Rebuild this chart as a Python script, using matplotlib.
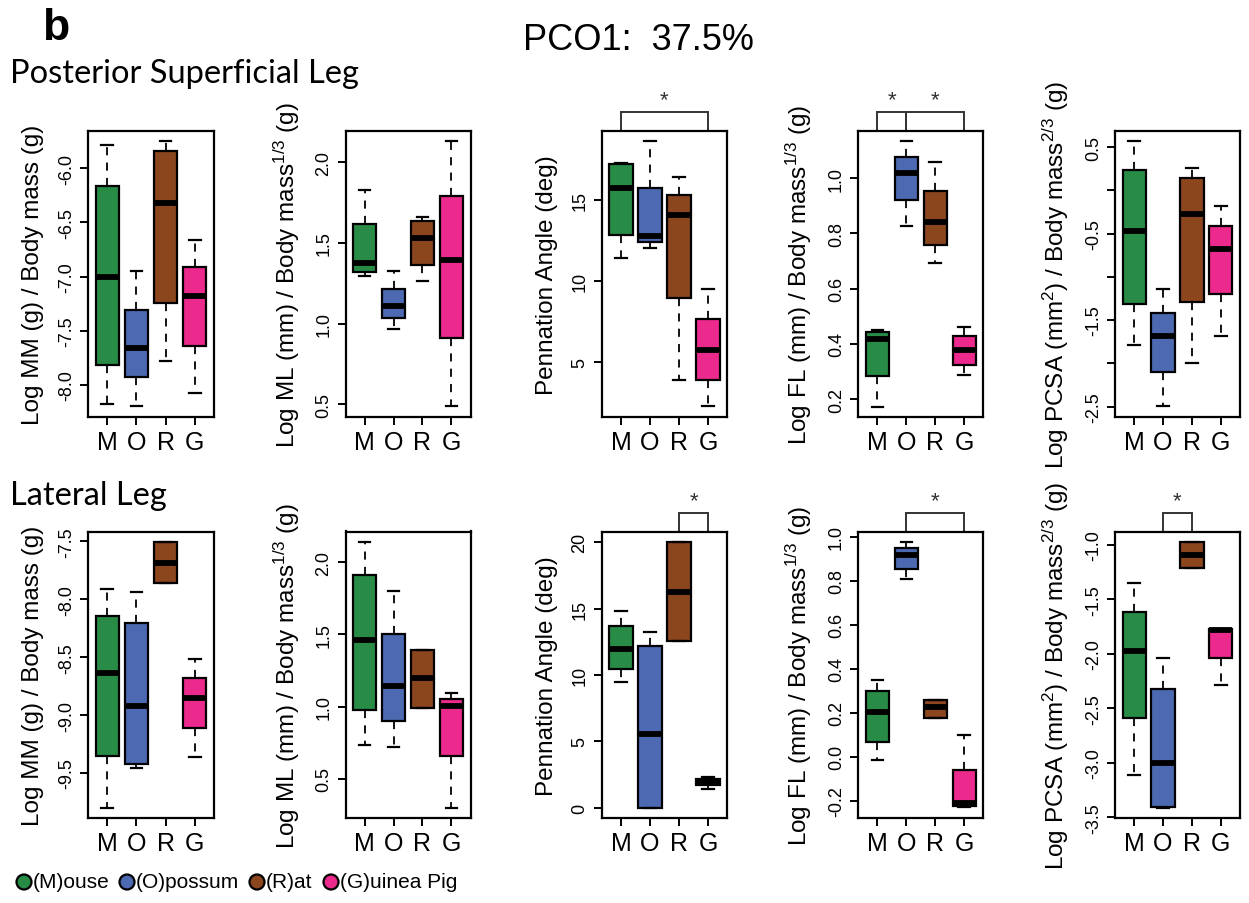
import matplotlib
matplotlib.use('Agg')
import matplotlib.pyplot as plt
from matplotlib.transforms import blended_transform_factory

plt.rcParams['font.family'] = ['Liberation Sans', 'DejaVu Sans']
plt.rcParams['mathtext.fontset'] = 'custom'
plt.rcParams['mathtext.rm'] = 'Liberation Sans'
plt.rcParams['mathtext.it'] = 'Liberation Sans:italic'
plt.rcParams['axes.unicode_minus'] = False

groups = ['M', 'O', 'R', 'G']
species = ['(M)ouse', '(O)possum', '(R)at', '(G)uinea Pig']
colors = ['#298C46', '#4D69B2', '#8B461E', '#EC298D']

# five-number summaries per group: [lower whisker, Q1, median, Q3, upper whisker]
post_mm = [[-8.175, -7.82, -7.006, -6.166, -5.79],
           [-8.19, -7.93, -7.66, -7.31, -6.95],
           [-7.78, -7.24, -6.32, -5.84, -5.75],
           [-8.07, -7.64, -7.18, -6.91, -6.66]]
post_ml = [[1.295, 1.318, 1.376, 1.616, 1.824],
           [0.965, 1.035, 1.107, 1.215, 1.324],
           [1.264, 1.36, 1.529, 1.632, 1.661],
           [0.49, 0.911, 1.395, 1.791, 2.132]]
post_pa = [[11.40, 12.84, 15.70, 17.18, 17.28],
           [12.02, 12.37, 12.78, 15.70, 18.62],
           [3.87, 8.93, 14.09, 15.29, 16.40],
           [2.26, 3.89, 5.72, 7.67, 9.49]]
post_fl = [[0.173, 0.284, 0.418, 0.444, 0.451],
           [0.826, 0.922, 1.018, 1.076, 1.133],
           [0.694, 0.757, 0.840, 0.954, 1.057],
           [0.288, 0.323, 0.379, 0.429, 0.463]]
post_pcsa = [[-1.787, -1.316, -0.476, 0.230, 0.566],
             [-2.497, -2.099, -1.687, -1.417, -1.139],
             [-1.991, -1.286, -0.279, 0.137, 0.253],
             [-1.679, -1.197, -0.684, -0.410, -0.179]]
lat_mm = [[-9.803, -9.350, -8.633, -8.140, -7.909],
          [-9.454, -9.419, -8.924, -8.206, -7.941],
          [-7.860, -7.860, -7.684, -7.506, -7.506],
          [-9.359, -9.108, -8.854, -8.684, -8.517]]
lat_ml = [[0.737, 0.979, 1.461, 1.912, 2.14],
          [0.724, 0.903, 1.145, 1.50, 1.80],
          [0.993, 0.993, 1.198, 1.392, 1.392],
          [0.300, 0.657, 1.007, 1.051, 1.097]]
lat_pa = [[9.47, 10.43, 11.96, 13.67, 14.82],
          [0.0, 0.0, 5.55, 12.21, 13.22],
          [12.59, 12.59, 16.28, 20.0, 20.0],
          [1.41, 1.73, 1.91, 2.16, 2.29]]
lat_fl = [[-0.013, 0.069, 0.202, 0.301, 0.349],
          [0.809, 0.853, 0.915, 0.950, 0.976],
          [0.176, 0.176, 0.225, 0.260, 0.260],
          [-0.230, -0.223, -0.211, -0.059, 0.099]]
lat_pcsa = [[-3.108, -2.585, -1.970, -1.615, -1.349],
            [-3.414, -3.408, -3.001, -2.322, -2.037],
            [-1.214, -1.214, -1.092, -0.976, -0.976],
            [-2.285, -2.037, -1.786, -1.771, -1.771]]

ylab_mm = 'Log MM (g) / Body mass (g)'
ylab_ml = 'Log ML (mm) / Body mass$^{1/3}$ (g)'
ylab_pa = 'Pennation Angle (deg)'
ylab_fl = 'Log FL (mm) / Body mass$^{1/3}$ (g)'
ylab_pcsa = 'Log PCSA (mm$^{2}$) / Body mass$^{2/3}$ (g)'

W, H = 1249, 904
fig = plt.figure(figsize=(W / 100, H / 100), dpi=100)

col_x = [(88, 214), (345.5, 470.5), (601.7, 727.3), (858.3, 983.3), (1115, 1240)]
row_y = [(131.7, 418), (532.5, 819.3)]

panels = [
    # row, col, data, ylim, ticks, labeled ticks, ylabel, brackets
    (0, 0, post_mm, (-8.295, -5.656), [-8, -7.5, -7, -6.5, -6], None, ylab_mm, []),
    (0, 1, post_ml, (0.421, 2.194), [0.5, 1.0, 1.5, 2.0], None, ylab_ml, []),
    (0, 2, post_pa, (1.60, 19.26), [5, 10, 15], None, ylab_pa, [(1, 4)]),
    (0, 3, post_fl, (0.136, 1.171), [0.2, 0.4, 0.6, 0.8, 1.0], None, ylab_fl, [(1, 2), (2, 4)]),
    (0, 4, post_pcsa, (-2.62, 0.689), [-2.5, -2, -1.5, -1, -0.5, 0, 0.5],
     [-2.5, -1.5, -0.5, 0.5], ylab_pcsa, []),
    (1, 0, lat_mm, (-9.892, -7.414), [-9.5, -9, -8.5, -8, -7.5], None, ylab_mm, []),
    (1, 1, lat_ml, (0.228, 2.212), [0.5, 1.0, 1.5, 2.0], None, ylab_ml, []),
    (1, 2, lat_pa, (-0.80, 20.80), [0, 5, 10, 15, 20], None, ylab_pa, [(3, 4)]),
    (1, 3, lat_fl, (-0.280, 1.024), [-0.2, 0.0, 0.2, 0.4, 0.6, 0.8, 1.0], None, ylab_fl, [(2, 4)]),
    (1, 4, lat_pcsa, (-3.509, -0.878), [-3.5, -3, -2.5, -2, -1.5, -1], None, ylab_pcsa, [(2, 3)]),
]

def fmt(v, ticks):
    if all(float(t).is_integer() for t in ticks):
        return '%d' % v
    return '%.1f' % v

for row, col, data, ylim, ticks, labeled, ylabel, brackets in panels:
    x0, x1 = col_x[col]
    y0, y1 = row_y[row]
    ax = fig.add_axes([x0 / W, 1 - y1 / H, (x1 - x0) / W, (y1 - y0) / H])
    stats = [dict(whislo=d[0], q1=d[1], med=d[2], q3=d[3], whishi=d[4], fliers=[], label=g)
             for d, g in zip(data, groups)]
    bp = ax.bxp(stats, positions=[1, 2, 3, 4], widths=0.8, capwidths=0.4,
                patch_artist=True, showfliers=False,
                boxprops=dict(edgecolor='black', linewidth=1.6),
                medianprops=dict(color='black', linewidth=4.2, solid_capstyle='butt'),
                whiskerprops=dict(color='black', linewidth=1.3, linestyle=(0, (4.5, 4))),
                capprops=dict(color='black', linewidth=1.6))
    for patch, c in zip(bp['boxes'], colors):
        patch.set_facecolor(c)
    ax.set_xlim(0.34, 4.66)
    ax.set_ylim(*ylim)
    ax.set_xticks([1, 2, 3, 4])
    ax.set_xticklabels(groups, fontsize=18)
    ax.set_yticks(ticks)
    lab = labeled if labeled is not None else ticks
    ax.set_yticklabels([fmt(t, ticks) if t in lab else '' for t in ticks], fontsize=13)
    ax.tick_params(axis='y', labelrotation=90, length=5.5, width=1.4, pad=4)
    ax.tick_params(axis='x', length=5.5, width=1.4, pad=4)
    for lbl in ax.get_yticklabels():
        lbl.set_va('center')
    for s in ax.spines.values():
        s.set_linewidth(1.6)
    ax.set_ylabel(ylabel, fontsize=17.5)
    ax.yaxis.set_label_coords(-44 / (x1 - x0), 0.5)
    tr = blended_transform_factory(ax.transData, ax.transAxes)
    ytop = 1 + 18.7 / (y1 - y0)
    for a, b in brackets:
        ax.plot([a, a, b, b], [1.0, ytop, ytop, 1.0], transform=tr, color='#333333',
                lw=1.4, clip_on=False, solid_joinstyle='miter')
        ax.text((a + b) / 2, ytop + 0.005, '*', transform=tr, ha='center', va='bottom',
                fontsize=16, color='#333333')

fig.text(42 / W, 1 - 8 / H, 'b', fontsize=32, fontweight='bold', ha='left', va='top')
fig.text(638 / W, 1 - 50 / H, 'PCO1:  37.5%', fontsize=26, ha='center', va='baseline')
fig.text(10 / W, 1 - 83 / H, 'Posterior Superficial Leg', fontsize=23.5,
         family=['Lato', 'DejaVu Sans'], ha='left', va='baseline')
fig.text(10 / W, 1 - 505 / H, 'Lateral Leg', fontsize=23.5,
         family=['Lato', 'DejaVu Sans'], ha='left', va='baseline')

# legend
lx = [24, 127, 257, 331]
for x, name, c in zip(lx, species, colors):
    fig.patches.append(matplotlib.patches.Ellipse((x / W, 1 - 883 / H), 15 / W, 15 / H,
                                                  transform=fig.transFigure, facecolor=c,
                                                  edgecolor='black', linewidth=1.6))
    fig.text((x + 9) / W, 1 - 883 / H, name, fontsize=15, ha='left', va='center')

fig.savefig('out.png', dpi=100)
